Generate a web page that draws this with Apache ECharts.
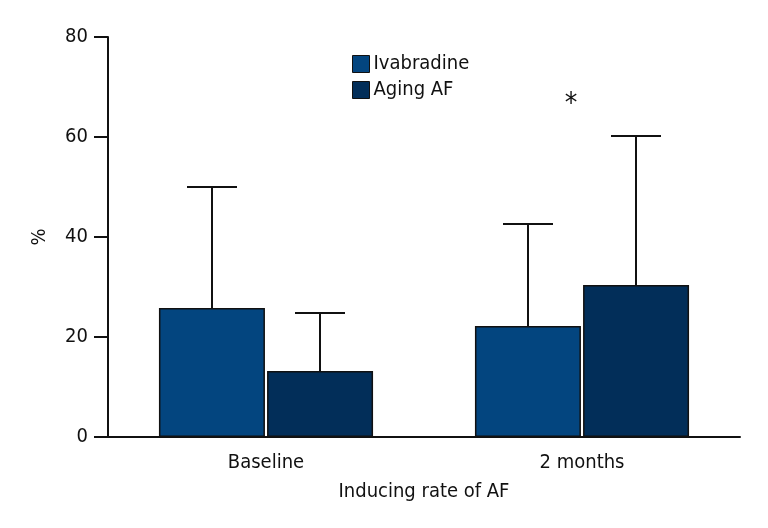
<!DOCTYPE html>
<html><head><meta charset="utf-8">
<script src="https://cdn.jsdelivr.net/npm/echarts@6/dist/echarts.min.js"></script>
<style>html,body{margin:0;padding:0;background:#fff}#c{width:768px;height:528px}</style>
</head><body><div id="c"></div>
<script>
var categories = ['Baseline', '2 months'];
var seriesNames = ['Ivabradine', 'Aging AF'];
var ivabradineMean = [25.8, 22.2];
var ivabradineErrTop = [50, 42.6];
var agingMean = [13.2, 30.4];
var agingErrTop = [24.8, 60.2];
var yTicks = [0, 20, 40, 60, 80];
var colors = ['#03457f', '#022e59'];
var FONT = '"Liberation Sans Narrow","DejaVu Sans Condensed","Roboto Condensed",sans-serif';

var chart = echarts.init(document.getElementById('c'));

function errSeries(means, tops, idx) {
  var data = means.map(function (m, i) { return [i, m, tops[i]]; });
  return {
    type: 'custom',
    name: seriesNames[idx] + ' err',
    silent: true,
    z: 1,
    data: data,
    renderItem: function (params, api) {
      var ci = api.value(0);
      var base = api.coord([ci, api.value(1)]);
      var top = api.coord([ci, api.value(2)]);
      var bw = 106, gap = 2;
      var offset = idx === 0 ? -(bw + gap) / 2 : (bw + gap) / 2;
      var x = base[0] + offset;
      var half = 25;
      return {
        type: 'group',
        children: [
          { type: 'line', shape: { x1: x, y1: base[1], x2: x, y2: top[1] }, style: { stroke: '#111', lineWidth: 2 } },
          { type: 'line', shape: { x1: x - half, y1: top[1], x2: x + half, y2: top[1] }, style: { stroke: '#111', lineWidth: 2 } }
        ]
      };
    }
  };
}

chart.setOption({
  animation: false,
  grid: { left: 108, right: 28, top: 37, bottom: 91, containLabel: false },
  legend: {
    data: seriesNames,
    orient: 'vertical',
    left: 347, top: 49,
    icon: 'rect',
    itemWidth: 17, itemHeight: 17, itemGap: 6,
    itemStyle: { borderColor: '#111', borderWidth: 1 },
    textStyle: { fontFamily: FONT, fontSize: 20, color: '#111', padding: [0, 0, 0, -1] }
  },
  xAxis: {
    type: 'category',
    data: categories,
    name: 'Inducing rate of AF',
    nameLocation: 'middle',
    nameGap: 45,
    nameTextStyle: { fontFamily: FONT, fontSize: 20, color: '#111' },
    axisLine: { lineStyle: { color: '#111', width: 2 } },
    axisTick: { show: false },
    axisLabel: { fontFamily: FONT, fontSize: 20, color: '#111', margin: 16 }
  },
  yAxis: {
    type: 'value',
    min: 0, max: 80, interval: 20,
    name: '%',
    nameLocation: 'middle',
    nameGap: 58,
    nameRotate: 90,
    nameTextStyle: { fontFamily: FONT, fontSize: 20, color: '#111' },
    splitLine: { show: false },
    axisLine: { show: true, lineStyle: { color: '#111', width: 2 } },
    axisTick: { show: true, length: 14, lineStyle: { color: '#111', width: 2 } },
    axisLabel: { fontFamily: FONT, fontSize: 20, color: '#111', margin: 20,
      formatter: function (v) { return yTicks.indexOf(v) >= 0 ? String(v) : ''; } }
  },
  series: [
    { type: 'bar', name: seriesNames[0], data: ivabradineMean, barWidth: 106, barGap: '2%', z: 2,
      itemStyle: { color: colors[0], borderColor: '#111', borderWidth: 1.5 } },
    { type: 'bar', name: seriesNames[1], data: agingMean, barWidth: 106, barGap: '2%', z: 2,
      itemStyle: { color: colors[1], borderColor: '#111', borderWidth: 1.5 } },
    errSeries(ivabradineMean, ivabradineErrTop, 0),
    errSeries(agingMean, agingErrTop, 1)
  ]
});

var starPos = chart.convertToPixel({ gridIndex: 0 }, [1, 66.5]);
chart.setOption({
  graphic: [{
    type: 'text', x: starPos[0] - 11, y: starPos[1],
    style: { text: '*', fontFamily: FONT, fontSize: 28, fill: '#111', align: 'center', verticalAlign: 'middle' }
  }]
});
</script></body></html>
